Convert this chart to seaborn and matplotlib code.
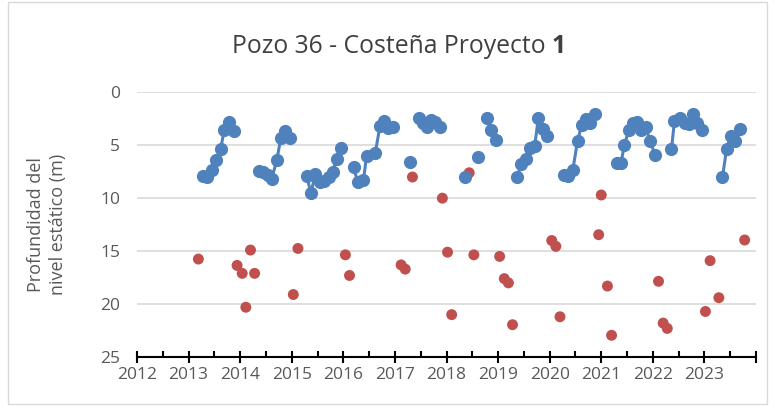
import numpy as np
import pandas as pd
import matplotlib
matplotlib.use("Agg")
import matplotlib.pyplot as plt
import seaborn as sns

# blue series: static level, grouped into campaigns (line breaks between groups)
blue_year = [
    2013.27, 2013.36, 2013.45, 2013.53, 2013.62, 2013.69, 2013.78, 2013.88,
    2014.37, 2014.45, 2014.53, 2014.61, 2014.71, 2014.79, 2014.87, 2014.97,
    2015.29, 2015.37, 2015.46, 2015.55, 2015.63, 2015.72, 2015.79, 2015.87, 2015.95,
    2016.20, 2016.28, 2016.39, 2016.45, 2016.62, 2016.71, 2016.79, 2016.87, 2016.97,
    2017.30,
    2017.46, 2017.54, 2017.62, 2017.70, 2017.78, 2017.87,
    2018.35,
    2018.61,
    2018.79, 2018.87, 2018.96,
    2019.37, 2019.45, 2019.54, 2019.61, 2019.71, 2019.78, 2019.87, 2019.95,
    2020.28, 2020.36, 2020.45, 2020.54, 2020.62, 2020.70, 2020.79, 2020.87,
    2021.30, 2021.38, 2021.45, 2021.53, 2021.61, 2021.70, 2021.78, 2021.86, 2021.95, 2022.04,
    2022.36, 2022.42, 2022.53, 2022.62, 2022.70, 2022.78, 2022.86, 2022.95,
    2023.35, 2023.43, 2023.51, 2023.60, 2023.69,
]
blue_depth = [
    7.9, 8.0, 7.3, 6.4, 5.4, 3.6, 2.8, 3.7,
    7.4, 7.5, 7.8, 8.2, 6.4, 4.3, 3.65, 4.3,
    7.9, 9.5, 7.7, 8.5, 8.4, 8.0, 7.5, 6.3, 5.3,
    7.1, 8.5, 8.3, 6.0, 5.7, 3.2, 2.7, 3.4, 3.3,
    6.6,
    2.4, 2.9, 3.3, 2.6, 2.8, 3.3,
    8.0,
    6.1,
    2.4, 3.6, 4.5,
    8.0, 6.8, 6.3, 5.3, 5.1, 2.4, 3.5, 4.1,
    7.8, 7.9, 7.3, 4.6, 3.1, 2.5, 2.9, 2.05,
    6.7, 6.7, 5.0, 3.6, 2.9, 2.8, 3.6, 3.3, 4.6, 5.9,
    5.4, 2.7, 2.4, 2.9, 3.0, 2.05, 2.9, 3.6,
    8.0, 5.35, 4.1, 4.6, 3.5,
]
blue_group = (
    [1] * 8 + [2] * 8 + [3] * 9 + [4] * 9 + [5] + [6] * 6 + [7] + [8] + [9] * 3
    + [10] * 8 + [11] * 8 + [12] * 10 + [13] * 8 + [14] * 5
)

# red series: isolated readings
red_year = [
    2013.19, 2013.94, 2014.04, 2014.11, 2014.20, 2014.28, 2015.03, 2015.12,
    2016.04, 2016.12, 2017.12, 2017.20, 2017.34, 2017.92, 2018.02, 2018.10,
    2018.44, 2018.53, 2019.03, 2019.12, 2019.20, 2019.28, 2020.04, 2020.12,
    2020.20, 2020.95, 2021.00, 2021.12, 2021.20, 2022.11, 2022.20, 2022.28,
    2023.02, 2023.11, 2023.28, 2023.78,
]
red_depth = [
    15.75, 16.35, 17.1, 20.3, 14.9, 17.1, 19.1, 14.75,
    15.35, 17.3, 16.3, 16.7, 8.0, 10.0, 15.1, 21.0,
    7.6, 15.35, 15.5, 17.6, 18.0, 21.95, 14.0, 14.55,
    21.2, 13.45, 9.7, 18.3, 22.95, 17.85, 21.8, 22.3,
    20.7, 15.9, 19.4, 13.95,
]

blue_df = pd.DataFrame({"year": blue_year, "depth": blue_depth, "grp": blue_group})
red_df = pd.DataFrame({"year": red_year, "depth": red_depth})

sns.set_style("white")
plt.rcParams["font.family"] = ["Open Sans", "DejaVu Sans"]
text_col = "#595959"

fig = plt.figure(figsize=(7.75, 4.08), dpi=100)
ax = fig.add_axes([137 / 775, 1 - 357 / 408, (756 - 137) / 775, (357 - 92.3) / 408])

sns.scatterplot(data=red_df, x="year", y="depth", ax=ax, color="#C0504D",
                s=62, edgecolor="none", zorder=3, legend=False)
sns.lineplot(data=blue_df, x="year", y="depth", units="grp", estimator=None,
             ax=ax, color="#4F81BD", linewidth=2.2, marker="o", markersize=9.5,
             markeredgewidth=0, sort=False, legend=False, zorder=4)

ax.set_xlim(2012, 2024)
ax.set_ylim(25, 0)
ax.set_xticks(np.arange(2012, 2025, 1))
ax.set_xticklabels([str(y) for y in range(2012, 2024)] + [""])
ax.set_xticks(np.arange(2012.5, 2024, 1), minor=True)
ax.set_yticks([0, 5, 10, 15, 20, 25])

ax.grid(axis="y", color="#d9d9d9", linewidth=1.2)
ax.set_axisbelow(True)
for side in ["top", "right", "left"]:
    ax.spines[side].set_visible(False)
ax.spines["bottom"].set_color("black")
ax.spines["bottom"].set_linewidth(1.5)
ax.spines["bottom"].set_zorder(5)

ax.tick_params(axis="x", which="both", bottom=True)
ax.tick_params(axis="x", which="major", direction="inout", length=9, width=1.5,
               color="black", labelsize=12.5, labelcolor=text_col, pad=3)
ax.tick_params(axis="x", which="minor", direction="in", length=4, width=1.5, color="black")
ax.tick_params(axis="y", length=0, labelsize=12.5, labelcolor=text_col, pad=12)

ax.set_xlabel("")
ax.set_ylabel("Profundidad del\nnivel estático (m)", fontsize=13, color=text_col,
              labelpad=24, linespacing=1.25)

# title, with the trailing number in bold
fig.text(0.712, 0.885, "Pozo 36 - Costeña Proyecto ", ha="right", va="center",
         fontsize=17.8, color="#404040")
fig.text(0.712, 0.885, "1", ha="left", va="center", fontsize=17.8,
         fontweight="bold", color="#404040")

# chart border
fig.patches.append(plt.Rectangle((8 / 775, 0.01), 1 - 16 / 775, 0.985, transform=fig.transFigure,
                                 fill=False, edgecolor="#d9d9d9", linewidth=1))

fig.savefig("out.png", dpi=100)
